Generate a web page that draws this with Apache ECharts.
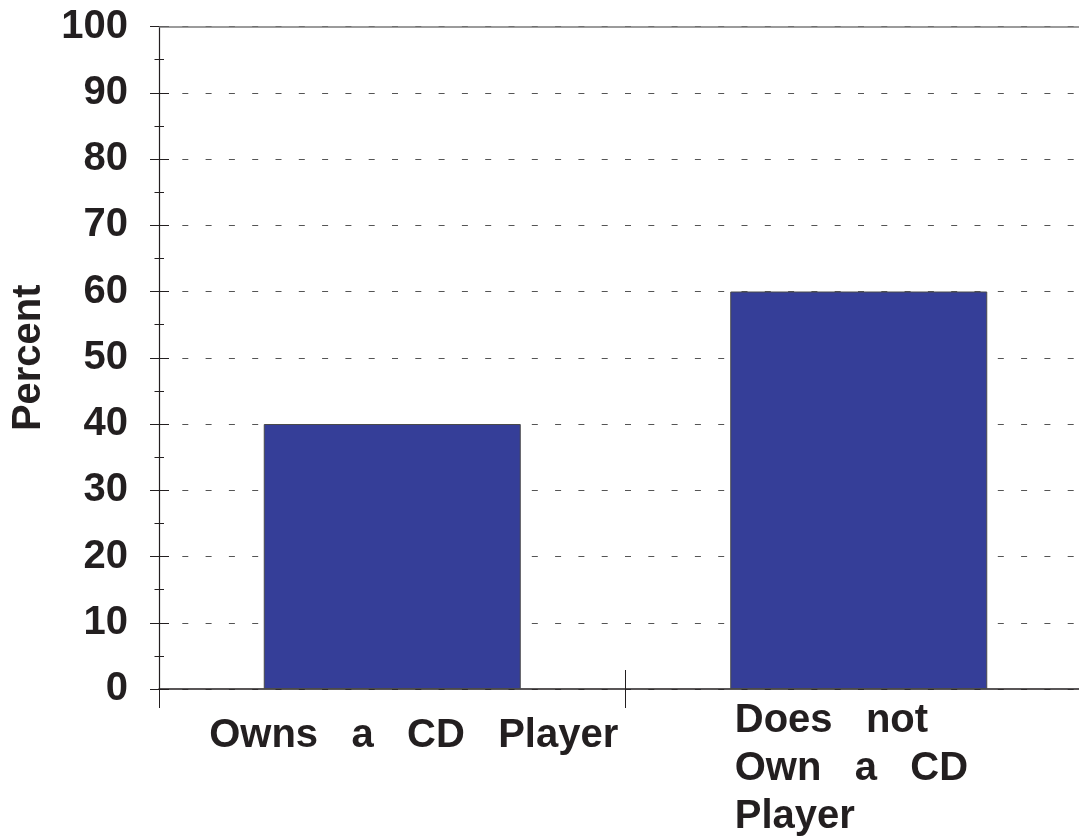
<!DOCTYPE html>
<html>
<head>
<meta charset="utf-8">
<script src="https://cdn.jsdelivr.net/npm/echarts@6/dist/echarts.min.js"></script>
<style>
  html, body { margin: 0; padding: 0; background: #ffffff; }
  #chart { width: 1079px; height: 837px; }
</style>
</head>
<body>
<div id="chart"></div>
<script>
// Share of respondents by CD player ownership
const categories = ['Owns a CD Player', 'Does not Own a CD Player'];
const percentValues = [40, 60];
const yTicks = { min: 0, max: 100, interval: 10 };
const yAxisTitle = 'Percent';

const FONT = '"Liberation Sans", Arial, Helvetica, sans-serif';
const INK = '#231f20';
const BAR = '#353e98';

// Wide word spacing as printed under each bar
function spaced(s) { return s.split(' ').join('   '); }

const chart = echarts.init(document.getElementById('chart'), null, { renderer: 'canvas' });

// Inner half of the y ticks (ticks cross the axis line)
const innerY = {
  type: 'value',
  min: yTicks.min,
  max: yTicks.max,
  interval: yTicks.interval,
  position: 'left',
  splitLine: { show: false },
  axisLabel: { show: false },
  axisLine: { show: false },
  axisTick: { show: true, inside: true, length: 10, lineStyle: { color: INK, width: 1 } },
  minorTick: { show: true, splitNumber: 2, length: 5, lineStyle: { color: INK, width: 1 } }
};

chart.setOption({
  animation: false,
  backgroundColor: '#ffffff',
  grid: { left: 159, top: 26.5, width: 933, height: 662.5, containLabel: false, outerBoundsMode: 'none' },
  xAxis: [
    {
      type: 'category',
      data: categories,
      position: 'bottom',
      boundaryGap: true,
      axisLine: { show: true, lineStyle: { color: INK, width: 1.5 } },
      axisTick: { show: true, interval: 0, length: 19, lineStyle: { color: INK, width: 1 } },
      axisLabel: {
        interval: 0,
        margin: 8,
        hideOverlap: false,
        formatter: function (v, i) {
          if (i === 0) return '{one|' + spaced(v) + '}';
          const w = v.split(' ');
          return '{two|' + spaced(w.slice(0, 2).join(' ')) + '}\n' +
                 '{two|' + spaced(w.slice(2, 5).join(' ')) + '}\n' +
                 '{two|' + spaced(w.slice(5).join(' ')) + '}';
        },
        rich: {
          one: { width: 452, align: 'right', padding: [19, 0, 0, 0], fontFamily: FONT, fontWeight: 'bold', fontSize: 40, color: INK },
          two: { width: 248, align: 'left', lineHeight: 48, fontFamily: FONT, fontWeight: 'bold', fontSize: 40, color: INK }
        }
      },
      splitLine: { show: false }
    },
    {
      type: 'category',
      data: categories,
      position: 'bottom',
      boundaryGap: true,
      axisLine: { show: false },
      axisTick: { show: true, inside: true, interval: 0, length: 19, lineStyle: { color: INK, width: 1 } },
      axisLabel: { show: false },
      splitLine: { show: false }
    }
  ],
  yAxis: [
    {
      type: 'value',
      min: yTicks.min,
      max: yTicks.max,
      interval: yTicks.interval,
      position: 'left',
      name: yAxisTitle,
      nameLocation: 'middle',
      nameRotate: 90,
      nameGap: 110,
      nameTextStyle: { fontFamily: FONT, fontWeight: 'bold', fontSize: 40, color: INK },
      axisLine: { show: true, lineStyle: { color: INK, width: 1.2 } },
      axisTick: { show: true, inside: false, length: 9, lineStyle: { color: INK, width: 1 } },
      minorTick: { show: true, splitNumber: 2, length: 4.5, lineStyle: { color: INK, width: 1 } },
      axisLabel: { margin: 31, fontFamily: FONT, fontWeight: 'bold', fontSize: 40, color: INK },
      splitLine: { show: true, lineStyle: { color: '#555555', width: 1, type: [6, 17.3] } }
    },
    innerY
  ],
  series: [
    {
      type: 'bar',
      xAxisIndex: 0,
      yAxisIndex: 0,
      data: percentValues,
      barWidth: 257,
      itemStyle: { color: BAR, borderColor: '#4a4a4a', borderWidth: 1 },
      markLine: {
        silent: true,
        symbol: 'none',
        label: { show: false },
        lineStyle: { color: '#7a7a7a', width: 1.5, type: 'solid' },
        data: [{ yAxis: yTicks.max }]
      }
    }
  ]
});
</script>
</body>
</html>
